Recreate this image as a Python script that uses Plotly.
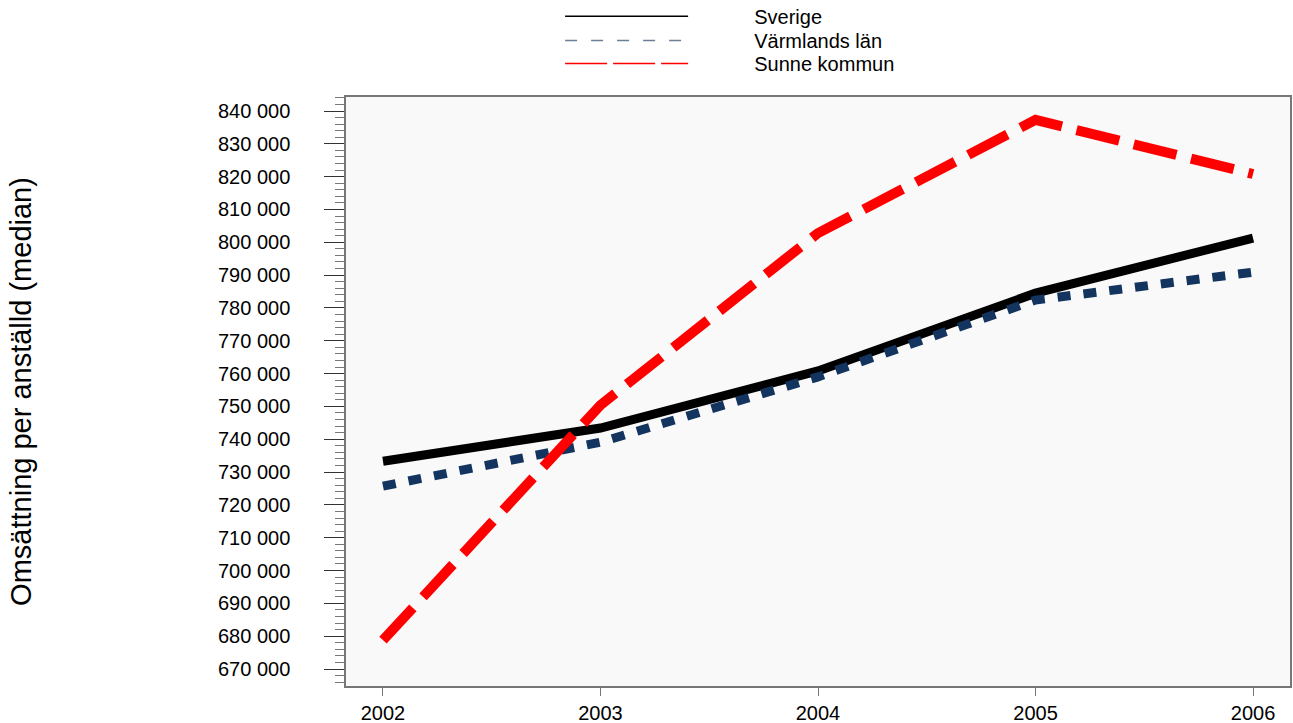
import plotly.graph_objects as go

years = [2002, 2003, 2004, 2005, 2006]
sverige = [733300, 743400, 760800, 784500, 801300]
varmland = [725700, 739100, 759000, 782400, 790900]
sunne = [678800, 750400, 802800, 837300, 820800]

series_names = ["Sverige", "Värmlands län", "Sunne kommun"]
series_values = [sverige, varmland, sunne]
colors = ["#000000", "#12345e", "#ff0000"]
dashes = ["solid", "13px,13px", "44px,15px"]
legend_dashes = ["solid", "12px,14px", "42px,6px"]
legend_colors = ["#000000", "#6a7f95", "#ff0000"]
widths = [9, 9, 10]

y_ticks = list(range(670000, 840001, 10000))
y_ticktext = [f"{v:,}".replace(",", " ") for v in y_ticks]

fig = go.Figure()
# legend entries (thin sample lines as in the reference), one legend per row
pad = "\u00a0" * 11
legend_ids = ["legend", "legend2", "legend3"]
legend_tops = [1.17, 1.129, 1.090]
for name, c, d, lid in zip(series_names, legend_colors, legend_dashes, legend_ids):
    fig.add_trace(go.Scatter(x=[None], y=[None], mode="lines", name=pad + name,
                             legend=lid, line=dict(color=c, width=1.5, dash=d)))
for name, vals, c, d, w in zip(series_names, series_values, colors, dashes, widths):
    fig.add_trace(go.Scatter(x=years, y=vals, mode="lines", showlegend=False,
                             line=dict(color=c, width=w, dash=d),
                             hoverinfo="skip"))

legend_style = dict(x=0.2268, xanchor="left", yanchor="top",
                    bgcolor="rgba(0,0,0,0)", itemwidth=123, font=dict(size=20))

fig.update_layout(
    width=1293, height=723,
    margin=dict(l=346, r=3, t=97, b=37, autoexpand=False),
    paper_bgcolor="white",
    plot_bgcolor="#f9f9f9",
    font=dict(family="Liberation Sans, Arial, sans-serif", size=20, color="#000000"),
    legend=dict(y=legend_tops[0], **legend_style),
    legend2=dict(y=legend_tops[1], **legend_style),
    legend3=dict(y=legend_tops[2], **legend_style),
    xaxis=dict(range=[2001.83, 2006.17], tickvals=years, ticktext=[str(y) for y in years],
               ticks="outside", ticklen=8, tickcolor="#777777", showgrid=False,
               zeroline=False, showline=True, linecolor="#777777", linewidth=1.5,
               mirror=True, automargin=False),
    yaxis=dict(range=[664820, 844266], tickvals=y_ticks, ticktext=y_ticktext,
               ticks="outside", ticklen=20, tickcolor="#333333", showgrid=False,
               zeroline=False, showline=True, linecolor="#777777", linewidth=1.5,
               mirror=True, ticklabelstandoff=30, automargin=False,
               minor=dict(dtick=2000, tick0=670000, ticks="outside", ticklen=9,
                          tickcolor="#777777", showgrid=False),
               title=dict(text="Omsättning per anställd (median)", font=dict(size=29),
                          standoff=178)),
)

fig.write_html("out.html", config={"displayModeBar": False},
               post_script="document.body.style.margin='0';document.body.style.overflow='hidden';")
